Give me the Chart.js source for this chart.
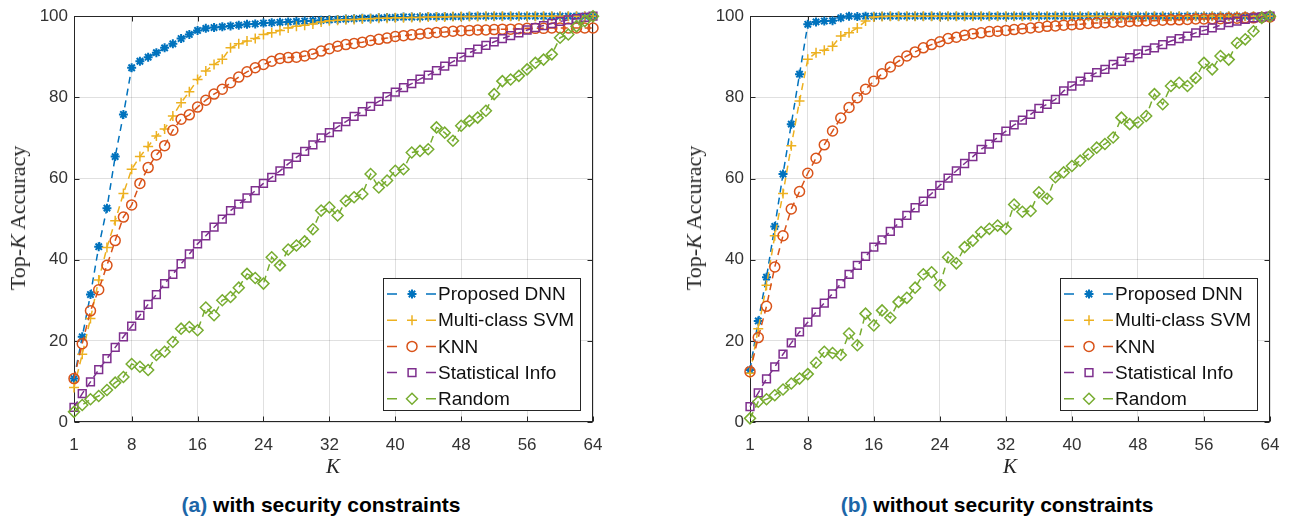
<!DOCTYPE html>
<html>
<head>
<meta charset="utf-8">
<script src="https://cdn.jsdelivr.net/npm/chart.js@4.4.1/dist/chart.umd.min.js"></script>
<style>
  body { margin: 0; background: #fff; width: 1300px; height: 521px; overflow: hidden; position: relative; }
  .plot { position: absolute; top: 0; height: 480px; }
  .ytitle, .xtitle { position: absolute; white-space: nowrap; font-family: "Liberation Serif", "DejaVu Serif", serif; color: #262626; }
  .ytitle { transform: translate(-50%, -50%) rotate(-90deg); font-size: 22px; }
  .xtitle { transform: translate(-50%, -50%); font-style: italic; font-size: 21px; }
  .caption { position: absolute; transform: translate(-50%, -50%); white-space: nowrap; font-family: "Liberation Sans", Arial, sans-serif; font-weight: bold; font-size: 21px; color: #000; }
  .caption span { color: #1c66a8; }
</style>
</head>
<body>

<div class="plot" style="left:0; width:650px;"><canvas id="chart_with"></canvas></div>
<div class="plot" style="left:676px; width:624px;"><canvas id="chart_without"></canvas></div>

<div class="ytitle" style="left:18px; top:218px;">Top-<i>K</i> Accuracy</div>
<div class="ytitle" style="left:694px; top:218px;">Top-<i>K</i> Accuracy</div>
<div class="xtitle" style="left:333px; top:466px;">K</div>
<div class="xtitle" style="left:1010px; top:466px;">K</div>
<div class="caption" style="left:321px; top:505px;"><span>(a)</span> with security constraints</div>
<div class="caption" style="left:997px; top:505px;"><span>(b)</span> without security constraints</div>

<script>
// K = 1..64
const kValues = [1, 2, 3, 4, 5, 6, 7, 8, 9, 10, 11, 12, 13, 14, 15, 16,
  17, 18, 19, 20, 21, 22, 23, 24, 25, 26, 27, 28, 29, 30, 31, 32,
  33, 34, 35, 36, 37, 38, 39, 40, 41, 42, 43, 44, 45, 46, 47, 48,
  49, 50, 51, 52, 53, 54, 55, 56, 57, 58, 59, 60, 61, 62, 63, 64];
const xTicks = [1, 8, 16, 24, 32, 40, 48, 56, 64];
const yTicks = [0, 20, 40, 60, 80, 100];
const seriesNames = ["Proposed DNN", "Multi-class SVM", "KNN", "Statistical Info", "Random"];

// (a) with security constraints
const dnnWith = [10.7, 21.0, 31.4, 43.2, 52.7, 65.4, 75.8, 87.3, 88.9, 89.9, 91.0, 92.2, 93.2, 94.5, 95.5, 96.5,
  97.0, 97.2, 97.4, 97.6, 97.8, 98.0, 98.1, 98.3, 98.4, 98.5, 98.6, 98.7, 98.8, 98.9, 99.0, 99.1,
  99.2, 99.3, 99.4, 99.5, 99.5, 99.6, 99.7, 99.7, 99.8, 99.8, 99.8, 99.9, 99.9, 99.9, 99.9, 99.9,
  100, 100, 100, 100, 100, 100, 100, 100, 100, 100, 100, 100, 100, 100, 100, 100];
const svmWith = [8.5, 16.7, 25.5, 35.0, 43.0, 49.6, 56.3, 62.3, 65.4, 67.9, 70.5, 72.2, 75.4, 78.7, 81.4, 84.4,
  86.5, 88.1, 89.4, 92.2, 93.2, 93.9, 94.5, 95.5, 95.9, 96.5, 97.1, 97.5, 97.8, 98.1, 98.6, 98.9,
  99.0, 99.1, 99.2, 99.3, 99.4, 99.5, 99.5, 99.6, 99.6, 99.7, 99.7, 99.8, 99.8, 99.8, 99.9, 99.9,
  99.9, 99.9, 100, 100, 100, 100, 100, 100, 100, 100, 100, 100, 100, 100, 100, 100];
const knnWith = [10.7, 19.3, 27.4, 32.6, 38.6, 44.7, 50.5, 53.5, 58.8, 62.7, 65.8, 68.1, 71.9, 74.6, 75.7, 77.6,
  79.3, 80.8, 82.0, 83.6, 85.0, 86.3, 87.3, 88.1, 88.9, 89.6, 89.8, 89.9, 90.2, 90.7, 91.4, 92.0,
  92.6, 93.0, 93.3, 93.6, 94.0, 94.3, 94.6, 95.0, 95.2, 95.4, 95.6, 95.8, 96.0, 96.1, 96.3, 96.4,
  96.5, 96.6, 96.6, 96.7, 96.8, 96.8, 96.9, 97.0, 97.0, 97.0, 97.1, 97.1, 97.1, 97.1, 97.1, 97.1];
const statWith = [3.6, 7.0, 9.9, 12.9, 15.6, 18.4, 21.0, 23.6, 26.3, 29.0, 31.4, 34.1, 36.4, 39.0, 41.4, 43.9,
  45.9, 48.0, 50.0, 52.1, 53.7, 55.2, 57.0, 58.8, 60.3, 61.9, 63.6, 65.2, 66.7, 68.3, 70.0, 71.3,
  72.7, 74.0, 75.3, 76.5, 77.8, 79.0, 80.2, 81.3, 82.4, 83.4, 84.5, 85.5, 86.6, 87.7, 88.8, 89.9,
  91.0, 91.9, 92.8, 93.7, 94.5, 95.2, 95.9, 96.6, 97.2, 97.7, 98.2, 98.7, 99.1, 99.4, 99.7, 100];
const randWith = [2.5, 4.2, 5.6, 6.4, 7.9, 9.7, 11.1, 14.3, 13.6, 12.8, 16.5, 17.3, 19.7, 23.0, 23.4, 22.6,
  28.2, 26.3, 30.0, 30.8, 33.1, 36.5, 35.5, 34.1, 40.6, 38.6, 42.5, 43.5, 44.5, 47.5, 52.1, 52.9,
  50.9, 54.5, 55.4, 56.2, 61.1, 57.8, 59.5, 61.9, 62.3, 66.4, 66.8, 67.2, 72.6, 71.3, 69.3, 73.0,
  74.2, 75.0, 76.7, 80.8, 84.0, 84.4, 85.3, 86.9, 88.5, 89.3, 90.6, 94.7, 95.5, 97.5, 98.8, 100];

// (b) without security constraints
const dnnWithout = [12.8, 24.9, 35.7, 48.2, 61.1, 73.4, 85.7, 98.0, 98.6, 98.8, 98.9, 99.6, 100, 99.9, 100, 100,
  100, 100, 100, 100, 100, 100, 100, 100, 100, 100, 100, 100, 100, 100, 100, 100,
  100, 100, 100, 100, 100, 100, 100, 100, 100, 100, 100, 100, 100, 100, 100, 100,
  100, 100, 100, 100, 100, 100, 100, 100, 100, 100, 100, 100, 100, 100, 100, 100];
const svmWithout = [12.0, 23.0, 33.7, 45.9, 56.3, 68.1, 79.1, 89.4, 91.0, 91.6, 92.6, 95.1, 95.9, 97.1, 98.8, 99.8,
  99.9, 100, 100, 100, 100, 100, 100, 100, 100, 100, 100, 100, 100, 100, 100, 100,
  100, 100, 100, 100, 100, 100, 100, 100, 100, 100, 100, 100, 100, 100, 100, 100,
  100, 100, 100, 100, 100, 100, 100, 100, 100, 100, 100, 100, 100, 100, 100, 100];
const knnWithout = [12.4, 20.8, 28.5, 38.2, 45.9, 52.5, 56.8, 61.3, 65.0, 68.3, 71.7, 74.9, 77.5, 79.9, 82.0, 84.0,
  85.8, 87.5, 88.9, 90.2, 91.2, 92.2, 93.0, 93.7, 94.5, 94.8, 95.3, 95.7, 95.9, 96.2, 96.3, 96.5,
  96.7, 96.9, 97.1, 97.3, 97.5, 97.6, 97.8, 97.9, 98.0, 98.2, 98.3, 98.4, 98.5, 98.6, 98.7, 98.8,
  98.9, 98.9, 99.0, 99.1, 99.1, 99.2, 99.3, 99.3, 99.4, 99.4, 99.5, 99.5, 99.6, 99.6, 99.7, 99.8];
const statWithout = [3.8, 7.2, 10.6, 13.6, 16.7, 19.5, 22.2, 24.6, 27.1, 29.3, 31.6, 34.1, 36.4, 38.6, 40.8, 43.1,
  44.9, 47.0, 49.0, 50.9, 52.8, 54.4, 56.3, 58.3, 60.1, 61.9, 63.7, 65.4, 67.2, 68.5, 70.1, 71.7,
  73.2, 74.4, 75.8, 77.3, 78.3, 79.5, 81.6, 82.8, 84.0, 85.0, 86.1, 86.9, 88.1, 88.9, 89.8, 90.7,
  91.6, 92.2, 93.0, 93.9, 94.5, 95.1, 95.9, 96.5, 97.1, 97.8, 98.4, 98.8, 99.2, 99.6, 99.8, 100];
const randWithout = [0.9, 5.0, 5.6, 6.6, 8.0, 9.5, 10.7, 11.8, 14.6, 17.3, 17.0, 16.5, 21.8, 18.9, 26.7, 23.8,
  27.5, 25.7, 29.6, 30.6, 33.1, 36.4, 36.9, 33.7, 40.6, 39.1, 43.1, 44.7, 46.8, 47.6, 48.4, 47.6,
  53.6, 51.8, 52.0, 56.6, 55.0, 60.3, 61.5, 63.1, 64.4, 66.0, 67.6, 68.5, 70.1, 75.0, 73.4, 73.8,
  75.4, 80.8, 78.3, 82.8, 83.6, 82.8, 84.8, 88.5, 86.9, 90.2, 89.3, 93.4, 94.3, 96.3, 99.6, 100];

// MATLAB default line colours and markers
const seriesColors = ["#0072BD", "#EDB120", "#D95319", "#7E2F8E", "#77AC30"];
const seriesMarkers = ["star", "cross", "circle", "rect", "rectRot"];
const markerSizes = [4.5, 5, 5, 5.5, 5.5];

function buildDatasets(seriesList) {
  return seriesList.map((vals, i) => ({
    label: seriesNames[i],
    data: vals.map((v, j) => ({ x: kValues[j], y: v })),
    borderColor: seriesColors[i],
    backgroundColor: "rgba(0,0,0,0)",
    borderWidth: 1.5,
    borderDash: [7, 5],
    pointStyle: seriesMarkers[i],
    pointRadius: markerSizes[i],
    pointBorderWidth: i === 0 ? 2 : 1.5,
    pointBorderColor: seriesColors[i],
    pointBackgroundColor: "rgba(0,0,0,0)",
    tension: 0,
    clip: false,
    order: 5 - i, // later series drawn on top, like matlab
  }));
}

// box around the axes with small inward ticks
const axesBox = {
  id: "axesBox",
  beforeDatasetsDraw(chart) {
    const { ctx, chartArea: a, scales } = chart;
    const L = Math.round(a.left) + 0.5, R = Math.round(a.right) - 0.5;
    const T = Math.round(a.top) + 0.5, B = Math.round(a.bottom) - 0.5;
    ctx.save();
    ctx.strokeStyle = "#262626";
    ctx.lineWidth = 1;
    ctx.strokeRect(L, T, R - L, B - T);
    ctx.beginPath();
    xTicks.forEach((v) => {
      const px = Math.round(scales.x.getPixelForValue(v)) + 0.5;
      ctx.moveTo(px, B); ctx.lineTo(px, B - 5);
      ctx.moveTo(px, T); ctx.lineTo(px, T + 5);
    });
    yTicks.forEach((v) => {
      const py = Math.round(scales.y.getPixelForValue(v)) + 0.5;
      ctx.moveTo(L, py); ctx.lineTo(L + 5, py);
      ctx.moveTo(R, py); ctx.lineTo(R - 5, py);
    });
    ctx.stroke();
    ctx.restore();
  },
};

// legend in the lower right corner, matlab style
const boxLegend = {
  id: "boxLegend",
  afterDatasetsDraw(chart) {
    const { ctx, chartArea: a } = chart;
    const right = Math.round(a.right - 13), left = right - 197;
    const bottom = Math.round(a.bottom - 12), top = bottom - 132;
    ctx.save();
    ctx.fillStyle = "#fff";
    ctx.fillRect(left, top, right - left, bottom - top);
    ctx.strokeStyle = "#262626";
    ctx.lineWidth = 1;
    ctx.strokeRect(left + 0.5, top + 0.5, right - left, bottom - top);
    chart.data.datasets.forEach((ds, i) => {
      const cy = top + 16 + i * 26.2;
      ctx.strokeStyle = ds.borderColor;
      ctx.lineWidth = 1.5;
      ctx.beginPath();
      ctx.moveTo(left + 4, cy); ctx.lineTo(left + 14, cy);
      ctx.moveTo(left + 43, cy); ctx.lineTo(left + 53, cy);
      ctx.stroke();
      ctx.fillStyle = "rgba(0,0,0,0)";
      ctx.lineWidth = ds.pointBorderWidth;
      Chart.helpers.drawPoint(ctx, { pointStyle: ds.pointStyle, radius: ds.pointRadius, borderWidth: ds.pointBorderWidth, rotation: 0 }, left + 29, cy);
      ctx.fillStyle = "#111";
      ctx.font = '19px "Liberation Sans", Arial, sans-serif';
      ctx.textBaseline = "middle";
      ctx.textAlign = "left";
      ctx.fillText(ds.label, left + 55, cy + 1);
    });
    ctx.restore();
  },
};

function makeChart(canvasId, seriesList, padRight) {
  const ctx = document.getElementById(canvasId).getContext("2d");
  return new Chart(ctx, {
    type: "line",
    data: { datasets: buildDatasets(seriesList) },
    options: {
      responsive: true,
      maintainAspectRatio: false,
      animation: false,
      layout: { padding: { left: 0, right: padRight, top: 15, bottom: 0 } },
      plugins: { legend: { display: false }, tooltip: { enabled: false } },
      scales: {
        x: {
          type: "linear",
          min: 1,
          max: 64,
          afterBuildTicks: (scale) => { scale.ticks = xTicks.map((v) => ({ value: v })); },
          afterFit: (scale) => { scale.height = 58; },
          grid: { color: "rgba(0,0,0,0.12)", drawTicks: false },
          border: { display: false },
          ticks: {
            autoSkip: false,
            maxRotation: 0,
            padding: 13,
            color: "#333",
            font: { family: "'Liberation Sans', Arial, sans-serif", size: 17 },
          },
        },
        y: {
          min: 0,
          max: 100,
          afterBuildTicks: (scale) => { scale.ticks = yTicks.map((v) => ({ value: v })); },
          afterFit: (scale) => { scale.width = 74; },
          grid: { color: "rgba(0,0,0,0.12)", drawTicks: false },
          border: { display: false },
          ticks: {
            padding: 6,
            color: "#333",
            font: { family: "'Liberation Sans', Arial, sans-serif", size: 17 },
          },
        },
      },
    },
    plugins: [axesBox, boxLegend],
  });
}

makeChart("chart_with", [dnnWith, svmWith, knnWith, statWith, randWith], 57);
makeChart("chart_without", [dnnWithout, svmWithout, knnWithout, statWithout, randWithout], 30);
</script>
</body>
</html>
